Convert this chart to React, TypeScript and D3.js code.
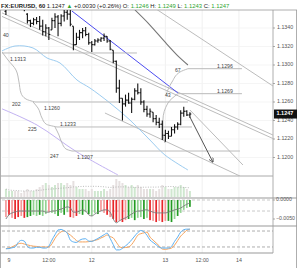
import React from "react";
import * as d3 from "d3";

// ---------- DATA ----------
const firstBar = -1;
const opens = [1.1358,1.1362,1.1366,1.1370,1.1368,1.1365,1.1364,1.1355,1.1348,1.1345,1.1349,1.1347,1.1342,1.1336,1.1340,1.1338,1.1348,1.1352,1.1345,1.1353,1.1357,1.1355,1.1342,1.1322,1.1330,1.1335,1.1337,1.1333,1.1324,1.1322,1.1326,1.1327,1.1329,1.1331,1.1326,1.1316,1.1304,1.1275,1.1264,1.1258,1.1262,1.1259,1.1263,1.1272,1.1270,1.1260,1.1252,1.1247,1.1249,1.1242,1.1238,1.1236,1.1224,1.1226,1.1223,1.1230,1.1233,1.1236,1.1248,1.1250,1.1246];
const highs = [1.1368,1.1372,1.1375,1.1378,1.1374,1.1370,1.1368,1.1356,1.1349,1.1351,1.1352,1.1353,1.1349,1.1344,1.1341,1.1351,1.1356,1.1354,1.1355,1.1362,1.1363,1.1361,1.1342,1.1335,1.1338,1.1340,1.1341,1.1335,1.1326,1.1328,1.1329,1.1330,1.1334,1.1331,1.1327,1.1316,1.1305,1.1284,1.1264,1.1268,1.1270,1.1265,1.1275,1.1280,1.1275,1.1262,1.1256,1.1253,1.1249,1.1246,1.1243,1.1240,1.1230,1.1229,1.1233,1.1236,1.1238,1.1251,1.1255,1.1251,1.1249];
const lows = [1.1354,1.1361,1.1363,1.1365,1.1362,1.1361,1.1358,1.1345,1.1341,1.1343,1.1344,1.1338,1.1332,1.1331,1.1327,1.1338,1.1340,1.1331,1.1342,1.1347,1.1349,1.1342,1.1316,1.1322,1.1327,1.1329,1.1331,1.1322,1.1314,1.1321,1.1324,1.1325,1.1326,1.1324,1.1316,1.1302,1.1270,1.1259,1.1240,1.1255,1.1258,1.1248,1.1262,1.1268,1.1257,1.1249,1.1244,1.1243,1.1238,1.1235,1.1232,1.1219,1.1217,1.1220,1.1223,1.1226,1.1230,1.1235,1.1244,1.1245,1.1243];
const closes = [1.1362,1.1366,1.1370,1.1368,1.1365,1.1364,1.1360,1.1348,1.1345,1.1349,1.1347,1.1342,1.1336,1.1340,1.1333,1.1348,1.1352,1.1345,1.1353,1.1357,1.1355,1.1344,1.1322,1.1330,1.1335,1.1337,1.1333,1.1324,1.1322,1.1326,1.1327,1.1329,1.1331,1.1326,1.1317,1.1304,1.1275,1.1264,1.1258,1.1262,1.1259,1.1263,1.1272,1.1270,1.1260,1.1252,1.1247,1.1250,1.1242,1.1238,1.1236,1.1224,1.1226,1.1223,1.1230,1.1233,1.1236,1.1248,1.1250,1.1246,1.1247];
const volumes = [4,3,3,3,3,2,3,4,3,3,4,5,6,7,6,5,6,7,7,6,7,6,8,5,4,4,4,3,4,3,3,3,4,3,4,6,9,8,7,6,5,6,5,6,5,4,4,4,4,3,4,6,5,4,4,5,5,6,5,4,3];
const macdHist = [-45,-39,-47,-50,-45,-42,-47,-45,-42,-39,-42,-39,-42,-37,-32,-34,-37,-42,-34,-39,-32,-45,-47,-42,-37,-39,-32,-37,-42,-34,-37,-29,-34,-39,-45,-50,-58,-55,-58,-53,-50,-47,-53,-47,-45,-50,-47,-53,-55,-58,-55,-58,-55,-55,-58,-50,-42,-34,-26,-21,-18];
const macdColors = ["r","R","r","R","R","r","R","G","G","g","g","G","g","g","r","g","g","G","g","G","g","R","r","R","g","G","g","G","g","g","G","r","r","R","r","R","R","r","R","r","G","g","G","g","g","G","g","R","r","R","r","R","r","G","G","g","G","g","g","g","G"];
const macdLine = [-50,-39,-34,-32,-29,-29,-29,-29,-29,-29,-29,-29,-29,-32,-32,-29,-29,-26,-24,-21,-18,-21,-32,-32,-29,-26,-29,-39,-42,-37,-32,-29,-26,-26,-32,-50,-60,-55,-50,-47,-42,-37,-32,-29,-29,-26,-26,-29,-32,-34,-34,-34,-34,-32,-29,-26,-24,-21,-16,-11,-8];
const stochK = [13,14,17,20,37,45,42,22,16,16,19,19,16,16,23,46,66,84,86,81,72,46,39,37,45,50,51,42,41,46,52,59,66,72,52,29,9,9,15,24,34,47,61,74,82,77,64,46,37,28,19,16,16,16,22,41,57,76,85,87,87];
const stochD = [14,16,20,26,32,34,31,28,25,23,22,20,20,20,20,32,52,68,77,81,73,65,55,44,39,39,39,40,42,45,48,54,59,65,59,54,38,22,17,18,20,29,46,64,70,73,76,57,46,35,24,12,11,13,16,27,44,61,72,83,87];

const priceTicks = [1.134,1.132,1.13,1.128,1.126,1.124,1.122,1.12];
const timeTickIdx = [0, 13, 27, 51, 63, 75];
const timeTickLabels = ["9", "12:00", "12", "13", "12:00", "14"];
const lastPrice = 1.1247;

// drawings (bar index, price)
const channelLines = [
  [[-2.93, 1.13573], [86.08, 1.12243]],
  [[-2.93, 1.13535], [86.08, 1.12205]],
  [[31.3, 1.12481], [75.3, 1.118]],
  [[59.0, 1.12514], [76.3, 1.11919]],
  [[45.97, 1.13649], [86.08, 1.12773]],
];
const blueLine = [[20.5, 1.13584], [55.1, 1.12697]];
const arrowLine = [[59.0, 1.12438], [66.5, 1.11951]];
const darkCurve = [[41.08,1.13595],[45.97,1.13432],[50.86,1.13249],[55.76,1.13076],[58.36,1.13]];
const lightBlueMA = [[-2.93,1.13141],[1.95,1.13205],[7.83,1.13184],[12.39,1.13076],[16.63,1.13022],[22.17,1.12838],[26.41,1.12751],[32.93,1.12589],[39.45,1.12405],[45.97,1.12189],[50.86,1.12027],[58.36,1.11865]];
const violetMA = [[-2.93,1.12535],[9.13,1.12351],[22.17,1.12059],[35.54,1.11811]];
const levels = [
  [1.1313, -2.93, 41.73],
  [1.126, 8.48, 58.36],
  [1.1233, 15.65, 59.67],
  [1.1207, 20.54, 75.32],
  [1.1296, 58.36, 75.97],
  [1.1269, 55.1, 75.97],
];
const arcs = [
  [[-2.28,1.13141],[-0.33,1.13054],[2.28,1.12946],[3.26,1.12816],[3.91,1.12697],[5.54,1.12632],[8.48,1.126]],
  [[7.83,1.126],[9.46,1.12535],[10.76,1.12427],[12.06,1.12362],[15.65,1.1233]],
  [[15.0,1.1233],[16.3,1.12243],[17.28,1.12157],[18.58,1.12092],[20.54,1.1207]],
  [[51.19,1.12676],[53.15,1.12816],[55.76,1.12924],[58.36,1.1296]],
  [[50.86,1.12157],[50.21,1.12265],[50.21,1.12405],[51.84,1.12589],[55.1,1.1269]],
];
const levelLabels: [string, number, number, number][] = [
  ["1.1313", 0.33, 1.1313, 7],
  ["202", 0.98, 1.126, 3],
  ["1.1260", 11.41, 1.126, 7],
  ["225", 6.2, 1.1233, 3],
  ["1.1233", 16.63, 1.1233, -2],
  ["247", 13.37, 1.1207, 6],
  ["1.1207", 22.17, 1.1207, 7],
  ["67", 54.12, 1.1296, 2],
  ["1.1296", 67.82, 1.1296, -2],
  ["43", 50.86, 1.1269, 2],
  ["1.1269", 67.82, 1.1269, -2],
  ["40", -1.96, 1.13335, 2],
];

// ---------- LAYOUT ----------
const W = 300, H = 268;
const left = 2, right = 273;
const top = 10;
const xs = d3.scaleLinear().domain([-2.28, 86.1]).range([left, right]);
const ys = d3.scaleLinear().domain([1.134, 1.118]).range([28, 176]);
const yv = d3.scaleLinear().domain([0, 10]).range([197, 177]);
const ym = d3.scaleLinear().domain([0, -50]).range([200, 219]);
const yst = d3.scaleLinear().domain([0, 100]).range([252.3, 225.7]);
const font = "'Liberation Sans', Arial, sans-serif";

const colMap: Record<string, string> = { R: "#e8262a", r: "#f39a9b", G: "#239b23", g: "#93d393" };

export default function App() {
  const idx = opens.map((_, k) => k + firstBar);
  const pl = d3.line<number[]>().x(d => xs(d[0])).y(d => ys(d[1]));
  const plCurve = d3.line<number[]>().x(d => xs(d[0])).y(d => ys(d[1])).curve(d3.curveMonotoneY);
  const plSmooth = d3.line<number[]>().x(d => xs(d[0])).y(d => ys(d[1])).curve(d3.curveCatmullRom);
  const volMa = volumes.map((_, k) => d3.mean(volumes.slice(Math.max(0, k - 19), k + 1)) as number);
  const lineIdx = (arr: number[], y: d3.ScaleLinear<number, number>) =>
    d3.line<number>().x((_, k) => xs(idx[k])).y(d => y(d)).curve(d3.curveMonotoneX)(arr) || "";

  return (
    <svg width={W} height={H} style={{ position: "absolute", left: 0, top: 0, background: "#fff" }} fontFamily={font}>
      <defs>
        <clipPath id="cp"><rect x={left} y={top} width={right - left} height={176 - top} /></clipPath>
        <clipPath id="cst"><rect x={left} y={226} width={right - left} height={27} /></clipPath>
        <marker id="arr" viewBox="0 0 10 10" refX="9" refY="5" markerWidth="5" markerHeight="5" orient="auto">
          <path d="M0,0 L10,5 L0,10" fill="none" stroke="#555" strokeWidth="1.6" />
        </marker>
      </defs>
      {/* title */}
      <text x={1} y={7.5} fontSize={5.9} fill="#222">
        <tspan fontWeight="bold">FX:EURUSD, 60</tspan>
        <tspan> {lastPrice.toFixed(4)} </tspan>
        <tspan fill="#2fa52f">▲</tspan>
        <tspan> +0.0030 (+0.26%) O: </tspan>
        <tspan fill="#2fa52f">1.1246</tspan>
        <tspan> H: </tspan>
        <tspan fill="#2fa52f">1.1249</tspan>
        <tspan> L: </tspan>
        <tspan fill="#2fa52f">1.1243</tspan>
        <tspan> C: </tspan>
        <tspan fill="#2fa52f">1.1247</tspan>
      </text>
      {/* grid */}
      {timeTickIdx.map((t, k) => (
        <line key={"vg" + k} x1={xs(t)} x2={xs(t)} y1={top} y2={253} stroke="#ececec" strokeWidth={0.8} />
      ))}
      {priceTicks.map((p, k) => (
        <line key={"hg" + k} x1={left} x2={right} y1={ys(p)} y2={ys(p)} stroke="#f3f3f3" strokeWidth={0.8} />
      ))}
      {/* frame */}
      <line x1={0} x2={297} y1={top} y2={top} stroke="#999" strokeWidth={0.8} />
      <line x1={0.5} x2={0.5} y1={top} y2={H} stroke="#999" strokeWidth={0.8} />
      <line x1={296.5} x2={296.5} y1={top} y2={H} stroke="#999" strokeWidth={0.8} />
      <line x1={right} x2={right} y1={top} y2={253} stroke="#999" strokeWidth={0.8} />
      <line x1={0} x2={right} y1={176} y2={176} stroke="#aaa" strokeWidth={1} />
      <line x1={0} x2={297} y1={198} y2={198} stroke="#999" strokeWidth={1} />
      <line x1={0} x2={297} y1={226} y2={226} stroke="#999" strokeWidth={1} />
      <line x1={0} x2={right} y1={253} y2={253} stroke="#999" strokeWidth={1} />

      {/* volume */}
      {volumes.map((v, k) => (
        <rect key={"v" + k} x={xs(idx[k]) - 1} width={2} y={yv(v)} height={yv(0) - yv(v)}
          fill={closes[k] >= opens[k] ? "#cfe7cf" : "#e6e0e0"} />
      ))}
      <path d={d3.line<number>().x((_, k) => xs(idx[k])).y(d => yv(d))(volMa) || ""} fill="none" stroke="#aaa" strokeWidth={0.8} strokeDasharray="1,1.5" />

      {/* drawings */}
      <g clipPath="url(#cp)" fill="none">
        {channelLines.map((l, k) => <path key={"cl" + k} d={pl(l) || ""} stroke="#b4b4b4" strokeWidth={0.9} />)}
        <path d={plSmooth(lightBlueMA) || ""} stroke="#9cccf0" strokeWidth={1} />
        <path d={plSmooth(violetMA) || ""} stroke="#c2b2f2" strokeWidth={1} />
        <path d={pl(blueLine) || ""} stroke="#4c4cf0" strokeWidth={1} />
        <path d={plSmooth(darkCurve) || ""} stroke="#777" strokeWidth={1.1} />
        {levels.map((l, k) => (
          <line key={"lv" + k} x1={xs(l[1])} x2={xs(l[2])} y1={ys(l[0])} y2={ys(l[0])} stroke="#bbb" strokeWidth={1} />
        ))}
        {arcs.map((a, k) => <path key={"ar" + k} d={plCurve(a) || ""} stroke="#b4b4b4" strokeWidth={0.9} />)}
        <path d={pl(arrowLine) || ""} stroke="#555" strokeWidth={1} markerEnd="url(#arr)" />
      </g>
      {levelLabels.map(([t, i, p, dy], k) => (
        <text key={"ll" + k} x={xs(i)} y={ys(p) + dy} fontSize={5.2} fill="#444" dominantBaseline="middle">{t}</text>
      ))}

      {/* OHLC bars */}
      <g clipPath="url(#cp)" stroke="#111" strokeWidth={1.1}>
        {idx.map((i, k) => {
          const x = xs(i);
          return (
            <g key={"b" + k}>
              <line x1={x} x2={x} y1={ys(highs[k])} y2={ys(lows[k])} />
              <line x1={x - 1.4} x2={x} y1={ys(opens[k])} y2={ys(opens[k])} />
              <line x1={x} x2={x + 1.4} y1={ys(closes[k])} y2={ys(closes[k])} />
            </g>
          );
        })}
      </g>

      {/* price axis */}
      {priceTicks.map((p, k) => (
        <g key={"pt" + k}>
          <line x1={right} x2={right + 2} y1={ys(p)} y2={ys(p)} stroke="#888" strokeWidth={0.7} />
          <text x={right + 4} y={ys(p)} fontSize={5.3} fill="#555" dominantBaseline="middle">{d3.format(".4f")(p)}</text>
        </g>
      ))}
      <rect x={right + 1} y={ys(lastPrice) - 4.5} width={23} height={9} fill="#111" />
      <text x={right + 3.5} y={ys(lastPrice)} fontSize={5.5} fill="#fff" fontWeight="bold" dominantBaseline="middle">{lastPrice.toFixed(4)}</text>

      {/* MACD */}
      <line x1={left} x2={right} y1={ym(0)} y2={ym(0)} stroke="#bbb" strokeWidth={0.8} strokeDasharray="3,2" />
      <line x1={left} x2={right} y1={ym(-29)} y2={ym(-29)} stroke="#bbb" strokeWidth={0.8} strokeDasharray="3,2" />
      {macdHist.map((v, k) => (
        <rect key={"mh" + k} x={xs(idx[k]) - 0.85} width={1.7} y={ym(0)} height={ym(v) - ym(0)} fill={colMap[macdColors[k]]} />
      ))}
      <path d={lineIdx(macdLine, ym)} fill="none" stroke="#7a7a7a" strokeWidth={0.9} />
      {[0, -50].map((v, k) => (
        <g key={"ma" + k}>
          <line x1={right} x2={right + 2} y1={ym(v)} y2={ym(v)} stroke="#888" strokeWidth={0.7} />
          <text x={right + 3} y={ym(v)} fontSize={5.2} fill="#555" dominantBaseline="middle">{d3.format(".4f")(v / 10000)}</text>
        </g>
      ))}

      {/* Stochastic */}
      {[80, 20].map((v, k) => (
        <line key={"sl" + k} x1={left} x2={right} y1={yst(v)} y2={yst(v)} stroke="#999" strokeWidth={0.8} strokeDasharray="3,2" />
      ))}
      <g clipPath="url(#cst)">
        <path d={lineIdx(stochD, yst)} fill="none" stroke="#f5a35c" strokeWidth={1} />
        <path d={lineIdx(stochK, yst)} fill="none" stroke="#5db0f2" strokeWidth={1} />
      </g>

      {/* time axis */}
      {timeTickIdx.map((t, k) => (
        <text key={"tt" + k} x={xs(t)} y={261} fontSize={5.3} fill="#555" textAnchor="middle" dominantBaseline="middle">{timeTickLabels[k]}</text>
      ))}
    </svg>
  );
}
